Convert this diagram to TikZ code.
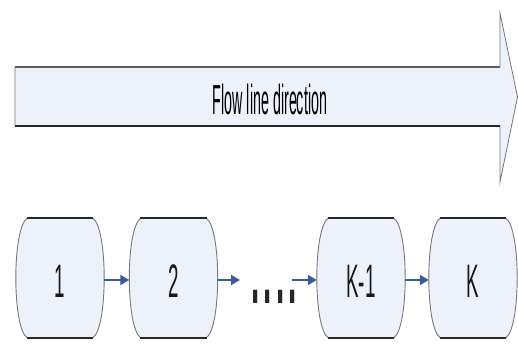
\documentclass[tikz,border=0pt]{standalone}
\usepackage{fontspec}
\setmainfont{Liberation Sans}
\usetikzlibrary{arrows.meta,calc}

\definecolor{paleblue}{RGB}{236,241,250}
\definecolor{edgegrey}{RGB}{120,120,120}
\definecolor{edgedark}{RGB}{40,40,40}
\definecolor{linkblue}{RGB}{56,93,154}

\tikzset{
  stage/.style={rectangle, draw=none, minimum width=88pt, minimum height=120pt,
                inner sep=0pt},
  stagefill/.style={fill=paleblue, draw=edgegrey, line width=0.9pt},
  stagerim/.style={draw=edgedark, line width=1.6pt},
  link/.style={draw=linkblue, line width=1.6pt,
               -{Triangle[length=9pt,width=10pt]}},
  narrow/.style={font=\fontsize{47}{47}\selectfont, text=black!90},
}

\newcommand{\stagelabel}[1]{\scalebox{0.4}[1]{#1}}

\begin{document}
\begin{tikzpicture}[x=1pt, y=-1pt]
\useasboundingbox (0,0) rectangle (518,344);
\fill[white] (0,0) rectangle (518,344);

% big direction arrow
\path[fill=paleblue, draw=edgegrey, line width=0.8pt, line join=miter]
  (15,67) -- (500,67) -- (500,13) -- (517.5,97) -- (500,182) -- (500,126)
  -- (15,126) -- cycle;
\draw[edgegrey!80!black, line width=1.6pt] (15,67) -- (500,67);
\draw[edgedark, line width=1.8pt] (15,126) -- (500,126);
\node[anchor=base, font=\fontsize{42}{42}\selectfont, text=black] (flow) at (270,115)
  {\scalebox{0.34}[1]{Flow line direction}};

% stages
\node[stage] (b1) at (60,278)  {};
\node[stage] (b2) at (173.5,278) {};
\node[stage] (b3) at (361,278) {};
\node[stage] (b4) at (473,278) {};

\foreach \n in {b1,b2,b3,b4}{
  \path[stagefill]
    ($(\n.north west)+(12,0)$) -- ($(\n.north east)+(-12,0)$)
    .. controls ($(\n.north east)+(4,8)$) and ($(\n.south east)+(4,-8)$) .. ($(\n.south east)+(-12,0)$)
    -- ($(\n.south west)+(12,0)$)
    .. controls ($(\n.south west)+(-4,-8)$) and ($(\n.north west)+(-4,8)$) .. cycle;
  \draw[stagerim] ($(\n.north west)+(11,0)$) -- ($(\n.north east)+(-11,0)$);
  \draw[stagerim] ($(\n.south west)+(11,0)$) -- ($(\n.south east)+(-11,0)$);
}

\node[narrow, anchor=base] at ($(b1.center)+(0,19)$) {\stagelabel{1}};
\node[narrow, anchor=base] at ($(b2.center)+(0,19)$) {\stagelabel{2}};
\node[narrow, anchor=base] at ($(b3.center)+(0,19)$) {\stagelabel{K-1}};
\node[narrow, anchor=base] at ($(b4.center)+(0,19)$) {\stagelabel{K}};

% ellipsis between stage 2 and stage K-1
\node[anchor=base, inner sep=0pt, font=\fontsize{20}{20}\selectfont, text=black!85]
  (dots) at (274,303) {\scalebox{2.2}[6.2]{....}};
\coordinate (gapin) at (240,280);
\coordinate (gapout) at (292,280);

% links
\draw[link] ($(b1.east)+(0,2)$) -- ($(b2.west)+(0,2)$);
\draw[link] ($(b2.east)+(0,2)$) -- (gapin);
\draw[link] (gapout) -- ($(b3.west)+(0,2)$);
\draw[link] ($(b3.east)+(0,2)$) -- ($(b4.west)+(0,2)$);
\end{tikzpicture}
\end{document}
